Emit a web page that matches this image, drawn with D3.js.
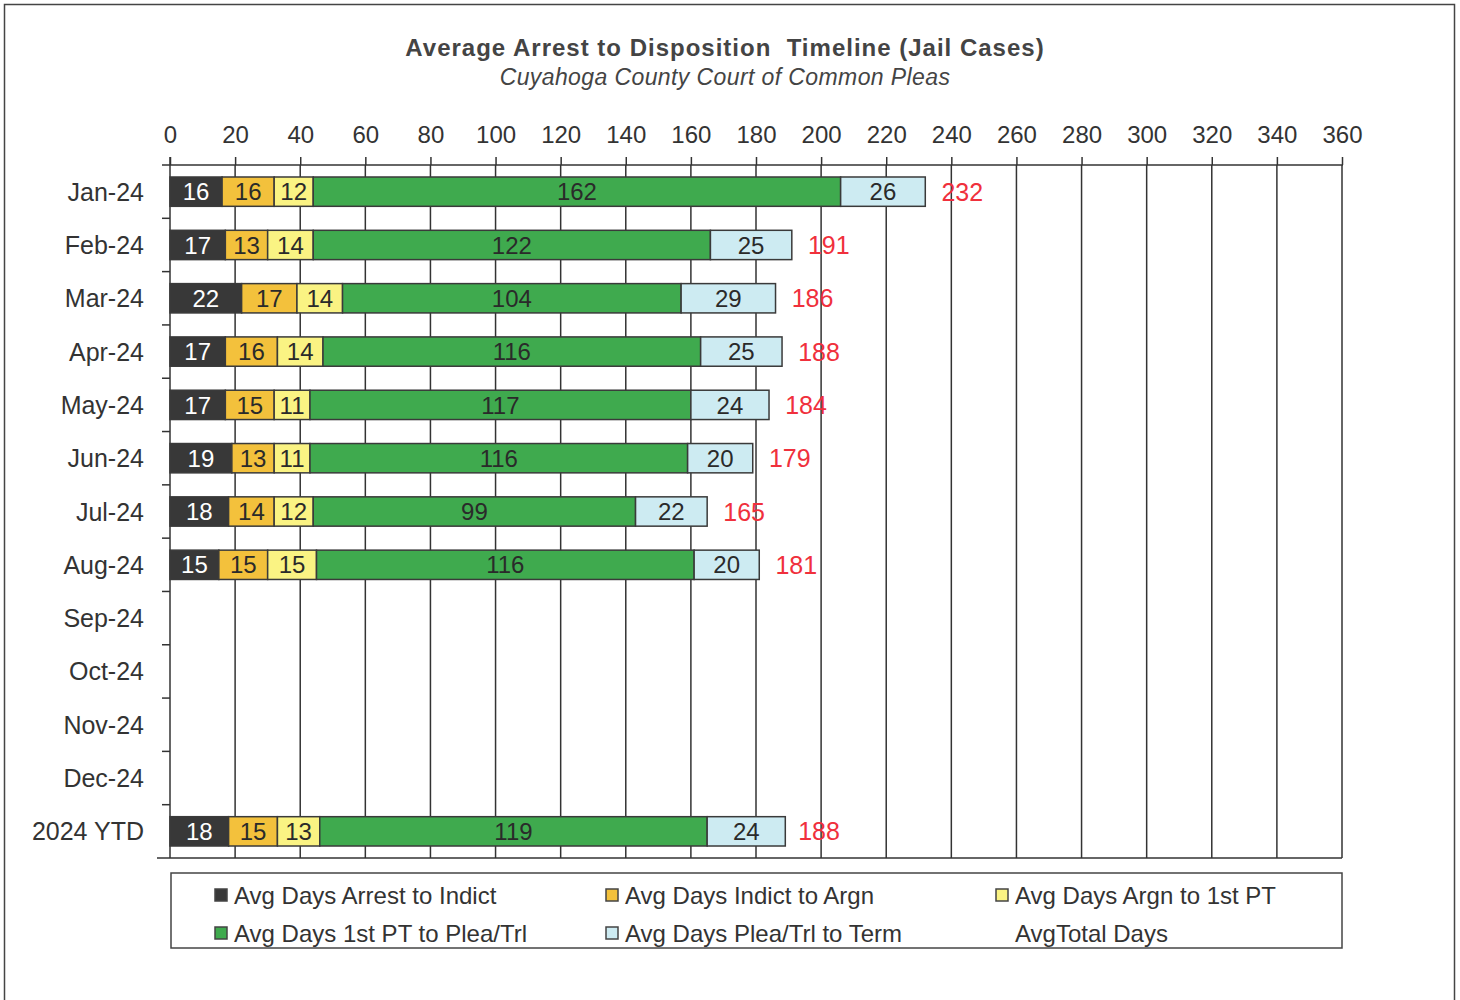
<!DOCTYPE html>
<html lang="en">
<head>
  <meta charset="UTF-8" />
  <title>Average Arrest to Disposition Timeline</title>
  <script src="https://d3js.org/d3.v7.min.js"></script>
  <style>
    body { margin: 0; background: #fff; }
    svg { display: block; font-family: 'Liberation Sans', Arial, sans-serif; }
  </style>
</head>
<body>
  <svg id="chart" width="1460" height="1000"></svg>
  <script>
    const months = ['Jan-24', 'Feb-24', 'Mar-24', 'Apr-24', 'May-24', 'Jun-24', 'Jul-24', 'Aug-24',
      'Sep-24', 'Oct-24', 'Nov-24', 'Dec-24', '2024 YTD'];
    const seriesNames = ['Avg Days Arrest to Indict', 'Avg Days Indict to Argn', 'Avg Days Argn to 1st PT',
      'Avg Days 1st PT to Plea/Trl', 'Avg Days Plea/Trl to Term'];
    const arrestToIndict = [16, 17, 22, 17, 17, 19, 18, 15, null, null, null, null, 18];
    const indictToArgn   = [16, 13, 17, 16, 15, 13, 14, 15, null, null, null, null, 15];
    const argnToPT       = [12, 14, 14, 14, 11, 11, 12, 15, null, null, null, null, 13];
    const ptToPlea       = [162, 122, 104, 116, 117, 116, 99, 116, null, null, null, null, 119];
    const pleaToTerm     = [26, 25, 29, 25, 24, 20, 22, 20, null, null, null, null, 24];
    const totalDays      = [232, 191, 186, 188, 184, 179, 165, 181, null, null, null, null, 188];
    const xTicks = d3.range(0, 361, 20);

    const colors = ['#383838', '#f3c13c', '#faf383', '#3faa4e', '#cdebf2'];
    const textColors = ['#ffffff', '#2a2a2a', '#2a2a2a', '#2a2a2a', '#2a2a2a'];
    const allSeries = [arrestToIndict, indictToArgn, argnToPT, ptToPlea, pleaToTerm];

    const svg = d3.select('#chart');

    // page frame
    svg.append('rect')
      .attr('x', 4.5).attr('y', 4.5)
      .attr('width', 1450).attr('height', 1010)
      .attr('fill', 'none').attr('stroke', '#444').attr('stroke-width', 1.5);

    // titles
    svg.append('text')
      .attr('x', 725).attr('y', 56)
      .attr('text-anchor', 'middle')
      .attr('font-size', 24).attr('font-weight', 'bold')
      .attr('letter-spacing', 1)
      .attr('fill', '#444')
      .attr('xml:space', 'preserve')
      .text('Average Arrest to Disposition  Timeline (Jail Cases)');
    svg.append('text')
      .attr('x', 725).attr('y', 85)
      .attr('text-anchor', 'middle')
      .attr('font-size', 23).attr('font-style', 'italic')
      .attr('letter-spacing', 0.4)
      .attr('fill', '#444')
      .text('Cuyahoga County Court of Common Pleas');

    const x = d3.scaleLinear().domain([0, 360]).range([170, 1342]);
    const y = d3.scaleBand().domain(months).range([165, 858])
      .paddingInner(0.45).paddingOuter(0.225);

    // gridlines
    svg.append('g')
      .selectAll('line')
      .data(xTicks.slice(1))
      .join('line')
      .attr('x1', d => x(d)).attr('x2', d => x(d))
      .attr('y1', 165).attr('y2', 858)
      .attr('stroke', '#333').attr('stroke-width', 1.5);

    // top axis
    const xAxis = svg.append('g')
      .attr('transform', 'translate(0,165)')
      .call(d3.axisTop(x).tickValues(xTicks).tickSize(8).tickPadding(14).tickSizeOuter(0));
    xAxis.select('.domain').remove();
    xAxis.selectAll('line').attr('stroke', '#333').attr('stroke-width', 1.5);
    xAxis.selectAll('text').attr('font-size', 24).attr('fill', '#333')
      .attr('font-family', "'Liberation Sans', Arial, sans-serif");

    // frame lines of the plot
    svg.append('line').attr('x1', 162).attr('x2', 1343).attr('y1', 165).attr('y2', 165)
      .attr('stroke', '#333').attr('stroke-width', 1.5);
    svg.append('line').attr('x1', 157).attr('x2', 1342).attr('y1', 858).attr('y2', 858)
      .attr('stroke', '#333').attr('stroke-width', 1.5);
    svg.append('line').attr('x1', 170).attr('x2', 170).attr('y1', 157).attr('y2', 858)
      .attr('stroke', '#333').attr('stroke-width', 1.5);

    // category boundary ticks
    const step = y.step();
    svg.append('g')
      .selectAll('line')
      .data(months.slice(1))
      .join('line')
      .attr('x1', 162).attr('x2', 170)
      .attr('y1', d => y(d) - step * 0.225).attr('y2', d => y(d) - step * 0.225)
      .attr('stroke', '#333').attr('stroke-width', 1.5);

    // category labels
    svg.append('g')
      .selectAll('text')
      .data(months)
      .join('text')
      .attr('x', 144)
      .attr('y', d => y(d) + y.bandwidth() / 2)
      .attr('dy', '0.36em')
      .attr('text-anchor', 'end')
      .attr('font-size', 25).attr('fill', '#333')
      .text(d => d);

    // stacked segments
    const rows = months.map((m, i) => {
      let start = 0;
      const segs = [];
      allSeries.forEach((s, k) => {
        if (s[i] == null) return;
        segs.push({ month: m, k, v: s[i], x0: start, x1: start + s[i] });
        start += s[i];
      });
      return segs;
    }).flat();

    svg.append('g')
      .selectAll('rect')
      .data(rows)
      .join('rect')
      .attr('x', d => x(d.x0))
      .attr('y', d => y(d.month))
      .attr('width', d => x(d.x1) - x(d.x0))
      .attr('height', y.bandwidth())
      .attr('fill', d => colors[d.k])
      .attr('stroke', '#3a3a3a')
      .attr('stroke-width', 1.5);

    svg.append('g')
      .selectAll('text')
      .data(rows)
      .join('text')
      .attr('x', d => (x(d.x0) + x(d.x1)) / 2)
      .attr('y', d => y(d.month) + y.bandwidth() / 2)
      .attr('dy', '0.36em')
      .attr('text-anchor', 'middle')
      .attr('font-size', 24)
      .attr('fill', d => textColors[d.k])
      .text(d => d.v);

    // total labels
    svg.append('g')
      .selectAll('text')
      .data(months.map((m, i) => ({ month: m, v: totalDays[i] })).filter(d => d.v != null))
      .join('text')
      .attr('x', d => x(d.v) + 37)
      .attr('y', d => y(d.month) + y.bandwidth() / 2)
      .attr('dy', '0.36em')
      .attr('text-anchor', 'middle')
      .attr('font-size', 25)
      .attr('fill', '#f0303c')
      .text(d => d.v);

    // legend
    const legend = svg.append('g');
    legend.append('rect')
      .attr('x', 171).attr('y', 873).attr('width', 1171).attr('height', 75)
      .attr('fill', 'none').attr('stroke', '#444').attr('stroke-width', 1.5);
    const legendItems = seriesNames.map((n, k) => ({ name: n, color: colors[k] }))
      .concat([{ name: 'AvgTotal Days', color: null }]);
    const colX = [215, 606, 996];
    const rowY = [895, 933];
    const li = legend.selectAll('g.item')
      .data(legendItems)
      .join('g')
      .attr('class', 'item')
      .attr('transform', (d, i) => `translate(${colX[i % 3]},${rowY[Math.floor(i / 3)]})`);
    li.filter(d => d.color)
      .append('rect')
      .attr('x', 0).attr('y', -6).attr('width', 12).attr('height', 12)
      .attr('fill', d => d.color)
      .attr('stroke', '#444').attr('stroke-width', 1.5);
    li.append('text')
      .attr('x', 19)
      .attr('dy', '0.36em')
      .attr('font-size', 24).attr('fill', '#333')
      .text(d => d.name);
  </script>
</body>
</html>
